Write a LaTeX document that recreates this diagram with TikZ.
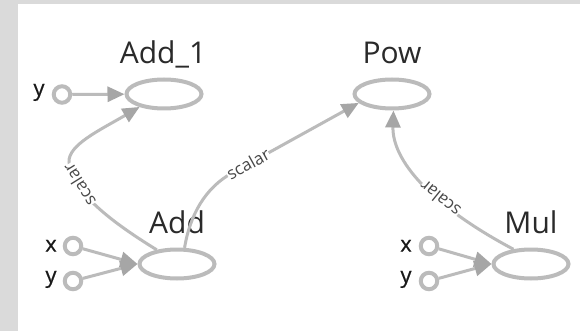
\documentclass[tikz,border=0pt]{standalone}
\usepackage{fontspec}
\setmainfont{Open Sans}
\newfontfamily\portfont[FakeBold=0.6]{Open Sans}
\usetikzlibrary{arrows.meta,shapes.geometric}
\definecolor{bggray}{HTML}{DADADA}
\definecolor{edgegray}{HTML}{BBBBBB}
\definecolor{tipgray}{HTML}{A6A6A6}
\definecolor{nodegray}{HTML}{BBBBBB}
\definecolor{labelgray}{HTML}{2A2A2A}
\definecolor{scalargray}{HTML}{484848}
\begin{document}
\begin{tikzpicture}[x=1pt,y=-1pt,
  opnode/.style={ellipse,draw=nodegray,line width=4pt,minimum width=75pt,minimum height=29pt,inner sep=0pt},
  inport/.style={circle,draw=nodegray,line width=4pt,minimum size=16.5pt,inner sep=0pt},
  oplabel/.style={anchor=base,font=\fontsize{30}{30}\selectfont,text=labelgray,inner sep=0pt},
  inlabel/.style={anchor=mid,font=\portfont\fontsize{22}{22}\selectfont,text=black!90,inner sep=0pt},
  flow/.style={draw=edgegray,line width=3pt,-{Triangle[length=17pt,width=15pt,color=tipgray]}},
  edgetext/.style={font=\fontsize{17}{17}\selectfont,text=scalargray,fill=white,inner sep=0.2pt}]
\useasboundingbox (0,0) rectangle (580,331);
\fill[bggray] (0,0) rectangle (580,331);
\fill[white] (18,4) rectangle (580,331);
% op nodes
\node[opnode] (add1) at (164,94) {};
\node[opnode] (pow) at (392,94) {};
\node[opnode] (add) at (177,264) {};
\node[opnode] (mul) at (531,264) {};
\node[oplabel] (add1lbl) at (163,64) {Add\_1};
\node[oplabel] (powlbl) at (392,64) {Pow};
\node[oplabel] (addlbl) at (177,233) {Add};
\node[oplabel] (mullbl) at (531,233) {Mul};
% input ports
\node[inport] (y1) at (62,94.5) {};
\node[inlabel] (y1lbl) at (39,93) {y};
\node[inport] (xa) at (73,246) {};
\node[inport] (ya) at (73,281) {};
\node[inlabel] (xalbl) at (51,249) {x};
\node[inlabel] (yalbl) at (51,280) {y};
\node[inport] (xm) at (429,246) {};
\node[inport] (ym) at (429,281) {};
\node[inlabel] (xmlbl) at (406,249) {x};
\node[inlabel] (ymlbl) at (406,280) {y};
% edges
\draw[flow] (y1) -- (add1);
\draw[flow] (xa) -- (add.west);
\draw[flow] (ya) -- (add.west);
\draw[flow] (xm) -- (mul.west);
\draw[flow] (ym) -- (mul.west);
\draw[flow] (add.145) .. controls (105,218) and (72,190) .. (69,162) .. controls (68,145) and (100,130) .. (add1.208);
\draw[flow] (add.65) .. controls (190,215) and (205,188) .. (232,173) -- (pow.195);
\draw[flow] (mul.140) .. controls (430,205) and (392,160) .. (pow.-85);
% edge labels
\node[edgetext,rotate=122] (s1) at (79,185) {scalar};
\node[edgetext,rotate=29] (s2) at (248,164) {scalar};
\node[edgetext,rotate=141] (s3) at (440,199) {scalar};
\end{tikzpicture}
\end{document}
